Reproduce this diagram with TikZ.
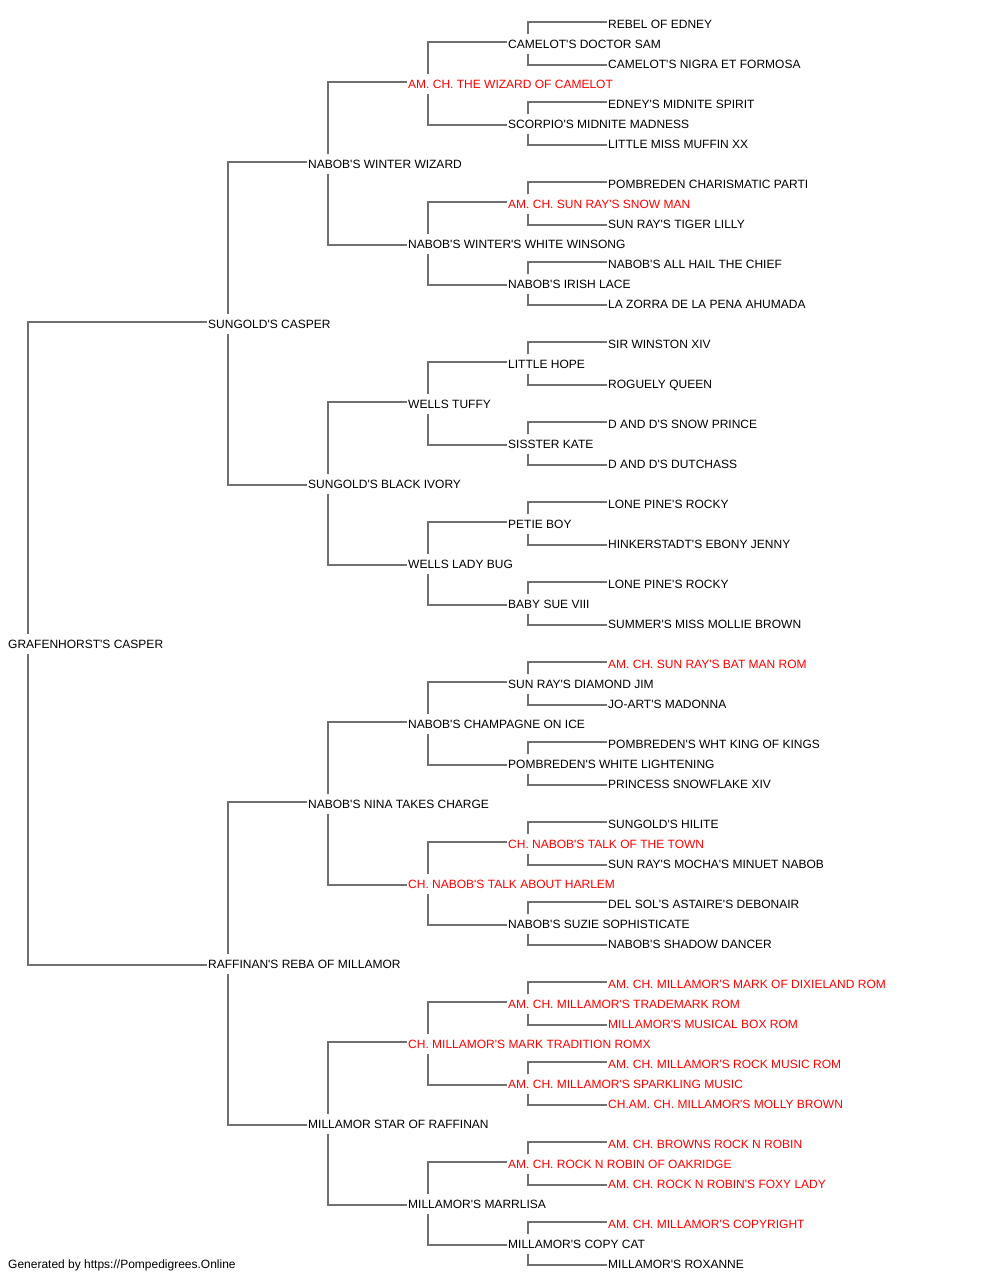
\documentclass[tikz,border=0pt]{standalone}
\usepackage{fontspec}
\setmainfont{Liberation Sans}[Ligatures=TeXOff]
\pgfdeclarelayer{paper}
\pgfdeclarelayer{background}
\pgfsetlayers{paper,background,main}
\definecolor{linegray}{RGB}{112,112,112}
\definecolor{chred}{RGB}{255,0,0}
\tikzset{
  pnode/.style={anchor=base west, fill=white, inner xsep=1.5pt, inner ysep=0pt,
    text height=15pt, text depth=5pt, font=\fontsize{12pt}{14pt}\selectfont, text=black},
  champ/.style={text=chred},
  link/.style={draw=linegray, line width=2pt}
}
\newcommand\pn[5]{\node[pnode,#5] (#1) at ({#2-1.5},{#3+4.5}) {#4};}
\newcommand\pedfam[3]{%
  \draw[link] ([xshift=21.5pt]#1.base west) |- ([yshift=6.5pt]#2.base west);
  \draw[link] ([xshift=21.5pt]#1.base west) |- ([yshift=3.5pt]#3.base west);}
\begin{document}
\begin{tikzpicture}[x=1pt,y=-1pt]
\useasboundingbox (0,0) rectangle (1000,1280);
\begin{pgfonlayer}{paper}
\fill[white] (0,0) rectangle (1000,1280);
\end{pgfonlayer}
% generation 0
\pn{R}{8}{644}{GRAFENHORST'S CASPER}{}
% generation 1
\pn{P0}{208}{324}{SUNGOLD'S CASPER}{}
\pn{P1}{208}{964}{RAFFINAN'S REBA OF MILLAMOR}{}
% generation 2
\pn{G0}{308}{164}{NABOB'S WINTER WIZARD}{}
\pn{G1}{308}{484}{SUNGOLD'S BLACK IVORY}{}
\pn{G2}{308}{804}{NABOB'S NINA TAKES CHARGE}{}
\pn{G3}{308}{1124}{MILLAMOR STAR OF RAFFINAN}{}
% generation 3
\pn{T0}{408}{84}{AM. CH. THE WIZARD OF CAMELOT}{champ}
\pn{T1}{408}{244}{NABOB'S WINTER'S WHITE WINSONG}{}
\pn{T2}{408}{404}{WELLS TUFFY}{}
\pn{T3}{408}{564}{WELLS LADY BUG}{}
\pn{T4}{408}{724}{NABOB'S CHAMPAGNE ON ICE}{}
\pn{T5}{408}{884}{CH. NABOB'S TALK ABOUT HARLEM}{champ}
\pn{T6}{408}{1044}{CH. MILLAMOR'S MARK TRADITION ROMX}{champ}
\pn{T7}{408}{1204}{MILLAMOR'S MARRLISA}{}
% generation 4
\pn{M0}{508}{44}{CAMELOT'S DOCTOR SAM}{}
\pn{M1}{508}{124}{SCORPIO'S MIDNITE MADNESS}{}
\pn{M2}{508}{204}{AM. CH. SUN RAY'S SNOW MAN}{champ}
\pn{M3}{508}{284}{NABOB'S IRISH LACE}{}
\pn{M4}{508}{364}{LITTLE HOPE}{}
\pn{M5}{508}{444}{SISSTER KATE}{}
\pn{M6}{508}{524}{PETIE BOY}{}
\pn{M7}{508}{604}{BABY SUE VIII}{}
\pn{M8}{508}{684}{SUN RAY'S DIAMOND JIM}{}
\pn{M9}{508}{764}{POMBREDEN'S WHITE LIGHTENING}{}
\pn{M10}{508}{844}{CH. NABOB'S TALK OF THE TOWN}{champ}
\pn{M11}{508}{924}{NABOB'S SUZIE SOPHISTICATE}{}
\pn{M12}{508}{1004}{AM. CH. MILLAMOR'S TRADEMARK ROM}{champ}
\pn{M13}{508}{1084}{AM. CH. MILLAMOR'S SPARKLING MUSIC}{champ}
\pn{M14}{508}{1164}{AM. CH. ROCK N ROBIN OF OAKRIDGE}{champ}
\pn{M15}{508}{1244}{MILLAMOR'S COPY CAT}{}
% generation 5
\pn{L0}{608}{24}{REBEL OF EDNEY}{}
\pn{L1}{608}{64}{CAMELOT'S NIGRA ET FORMOSA}{}
\pn{L2}{608}{104}{EDNEY'S MIDNITE SPIRIT}{}
\pn{L3}{608}{144}{LITTLE MISS MUFFIN XX}{}
\pn{L4}{608}{184}{POMBREDEN CHARISMATIC PARTI}{}
\pn{L5}{608}{224}{SUN RAY'S TIGER LILLY}{}
\pn{L6}{608}{264}{NABOB'S ALL HAIL THE CHIEF}{}
\pn{L7}{608}{304}{LA ZORRA DE LA PENA AHUMADA}{}
\pn{L8}{608}{344}{SIR WINSTON XIV}{}
\pn{L9}{608}{384}{ROGUELY QUEEN}{}
\pn{L10}{608}{424}{D AND D'S SNOW PRINCE}{}
\pn{L11}{608}{464}{D AND D'S DUTCHASS}{}
\pn{L12}{608}{504}{LONE PINE'S ROCKY}{}
\pn{L13}{608}{544}{HINKERSTADT'S EBONY JENNY}{}
\pn{L14}{608}{584}{LONE PINE'S ROCKY}{}
\pn{L15}{608}{624}{SUMMER'S MISS MOLLIE BROWN}{}
\pn{L16}{608}{664}{AM. CH. SUN RAY'S BAT MAN ROM}{champ}
\pn{L17}{608}{704}{JO-ART'S MADONNA}{}
\pn{L18}{608}{744}{POMBREDEN'S WHT KING OF KINGS}{}
\pn{L19}{608}{784}{PRINCESS SNOWFLAKE XIV}{}
\pn{L20}{608}{824}{SUNGOLD'S HILITE}{}
\pn{L21}{608}{864}{SUN RAY'S MOCHA'S MINUET NABOB}{}
\pn{L22}{608}{904}{DEL SOL'S ASTAIRE'S DEBONAIR}{}
\pn{L23}{608}{944}{NABOB'S SHADOW DANCER}{}
\pn{L24}{608}{984}{AM. CH. MILLAMOR'S MARK OF DIXIELAND ROM}{champ}
\pn{L25}{608}{1024}{MILLAMOR'S MUSICAL BOX ROM}{champ}
\pn{L26}{608}{1064}{AM. CH. MILLAMOR'S ROCK MUSIC ROM}{champ}
\pn{L27}{608}{1104}{CH.AM. CH. MILLAMOR'S MOLLY BROWN}{champ}
\pn{L28}{608}{1144}{AM. CH. BROWNS ROCK N ROBIN}{champ}
\pn{L29}{608}{1184}{AM. CH. ROCK N ROBIN'S FOXY LADY}{champ}
\pn{L30}{608}{1224}{AM. CH. MILLAMOR'S COPYRIGHT}{champ}
\pn{L31}{608}{1264}{MILLAMOR'S ROXANNE}{}
% footer
\node[pnode, fill=none] (footer) at (6.5,1268.5) {Generated by https://Pompedigrees.Online};
% connectors
\begin{pgfonlayer}{background}
\pedfam{R}{P0}{P1}
\foreach \i in {0,1}{\pgfmathtruncatemacro\a{2*\i}\pgfmathtruncatemacro\b{2*\i+1}\pedfam{P\i}{G\a}{G\b}}
\foreach \i in {0,...,3}{\pgfmathtruncatemacro\a{2*\i}\pgfmathtruncatemacro\b{2*\i+1}\pedfam{G\i}{T\a}{T\b}}
\foreach \i in {0,...,7}{\pgfmathtruncatemacro\a{2*\i}\pgfmathtruncatemacro\b{2*\i+1}\pedfam{T\i}{M\a}{M\b}}
\foreach \i in {0,...,15}{\pgfmathtruncatemacro\a{2*\i}\pgfmathtruncatemacro\b{2*\i+1}\pedfam{M\i}{L\a}{L\b}}
\end{pgfonlayer}
\end{tikzpicture}
\end{document}
